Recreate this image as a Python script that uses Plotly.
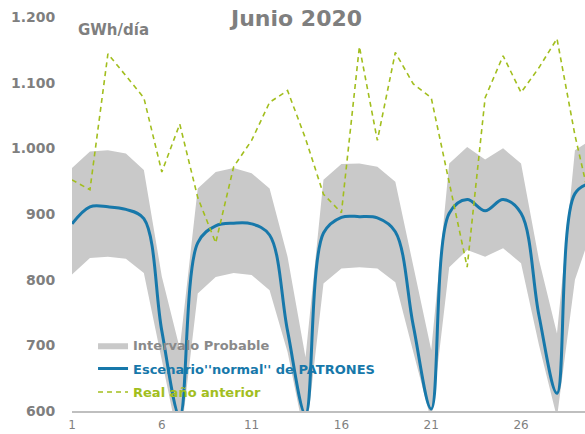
import plotly.graph_objects as go

# ---- data ----
dias = list(range(1, 31))
intervalo_sup = [970, 995, 997, 992, 967, 805, 695, 939, 964, 970, 962, 939, 835, 682, 952,
                 976, 977, 972, 949, 820, 693, 977, 1002, 983, 1000, 977, 830, 718, 997, 1015]
intervalo_inf = [808, 833, 835, 832, 810, 672, 545, 779, 804, 810, 807, 784, 690, 555, 794,
                 817, 819, 817, 796, 690, 585, 819, 845, 835, 848, 825, 700, 590, 800, 880]
escenario = [885, 911, 911, 907, 893, 722, 592, 856, 882, 886, 885, 868, 722, 595, 871,
             895, 896, 894, 873, 730, 603, 901, 922, 905, 922, 901, 745, 627, 931, 948]
real_anterior = [952, 937, 1144, 1111, 1077, 964, 1037, 925, 856, 972, 1012, 1070, 1088, 1015, 930,
                 902, 1155, 1012, 1146, 1098, 1077, 948, 819, 1077, 1141, 1085, 1123, 1167, 1020, 900]
x_ticks = [1, 6, 11, 16, 21, 26]
y_ticks = [600, 700, 800, 900, 1000, 1100, 1200]

GREY = "#C9C9C9"
BLUE = "#1778AA"
GREEN = "#A2BE1E"
TXT = "#7F7F7F"
FONT = "DejaVu Sans"

fig = go.Figure()
fig.add_trace(go.Scatter(x=dias, y=intervalo_inf, mode="lines", line=dict(width=0, color=GREY),
                         showlegend=False, hoverinfo="skip", legendgroup="a"))
fig.add_trace(go.Scatter(x=dias, y=intervalo_sup, mode="lines", line=dict(width=0, color=GREY),
                         fill="tonexty", fillcolor=GREY, legendgroup="a",
                         name="<span style='color:#8A8A8A'>Intervalo Probable</span>"))
fig.add_trace(go.Scatter(x=dias, y=escenario, mode="lines", legendgroup="b",
                         line=dict(width=3, color=BLUE, shape="spline", smoothing=1),
                         name="<span style='color:%s'>Escenario''normal'' de PATRONES</span>" % BLUE))
fig.add_trace(go.Scatter(x=dias, y=real_anterior, mode="lines", legendgroup="c",
                         line=dict(width=1.6, color=GREEN, dash="5px,4px"),
                         name="<span style='color:%s'>Real año anterior</span>" % GREEN))

fig.update_layout(
    template="none",
    width=585, height=434,
    margin=dict(l=72, r=0, t=17, b=23, autoexpand=False),
    paper_bgcolor="white", plot_bgcolor="white",
    separators=",.",
    font=dict(family=FONT, color=TXT),
    showlegend=True,
    legend=dict(x=0.041, y=0.205, xanchor="left", yanchor="top",
                bgcolor="rgba(0,0,0,0)", traceorder="grouped", tracegroupgap=3.5,
                font=dict(family=FONT, size=13, weight="bold"), itemwidth=30),
    xaxis=dict(range=[1, 29.56], tickvals=x_ticks, showgrid=False, zeroline=False,
               automargin=False,
               showline=True, linecolor="#BFBFBF", linewidth=2,
               ticks="outside", ticklen=2, tickcolor="rgba(0,0,0,0)",
               tickfont=dict(family=FONT, size=12, color=TXT)),
    yaxis=dict(range=[600, 1200], tickvals=y_ticks, tickformat=",d", showgrid=False,
               automargin=False,
               zeroline=False, showline=False, ticks="outside", ticklen=13,
               tickcolor="rgba(0,0,0,0)",
               tickfont=dict(family=FONT, size=14, color=TXT, weight="bold")),
    annotations=[
        dict(text="Junio 2020", xref="paper", yref="paper", x=0.435, y=0.997,
             xanchor="center", yanchor="middle", showarrow=False,
             font=dict(family=FONT, size=22, color=TXT, weight="bold")),
        dict(text="GWh/día", xref="paper", yref="paper", x=0.007, y=0.967,
             xanchor="left", yanchor="middle", showarrow=False,
             font=dict(family=FONT, size=15, color=TXT, weight="bold")),
    ],
)

fig.write_html("out.html", config={"displayModeBar": False},
               post_script="document.body.style.margin='0';document.body.style.overflow='hidden';")
